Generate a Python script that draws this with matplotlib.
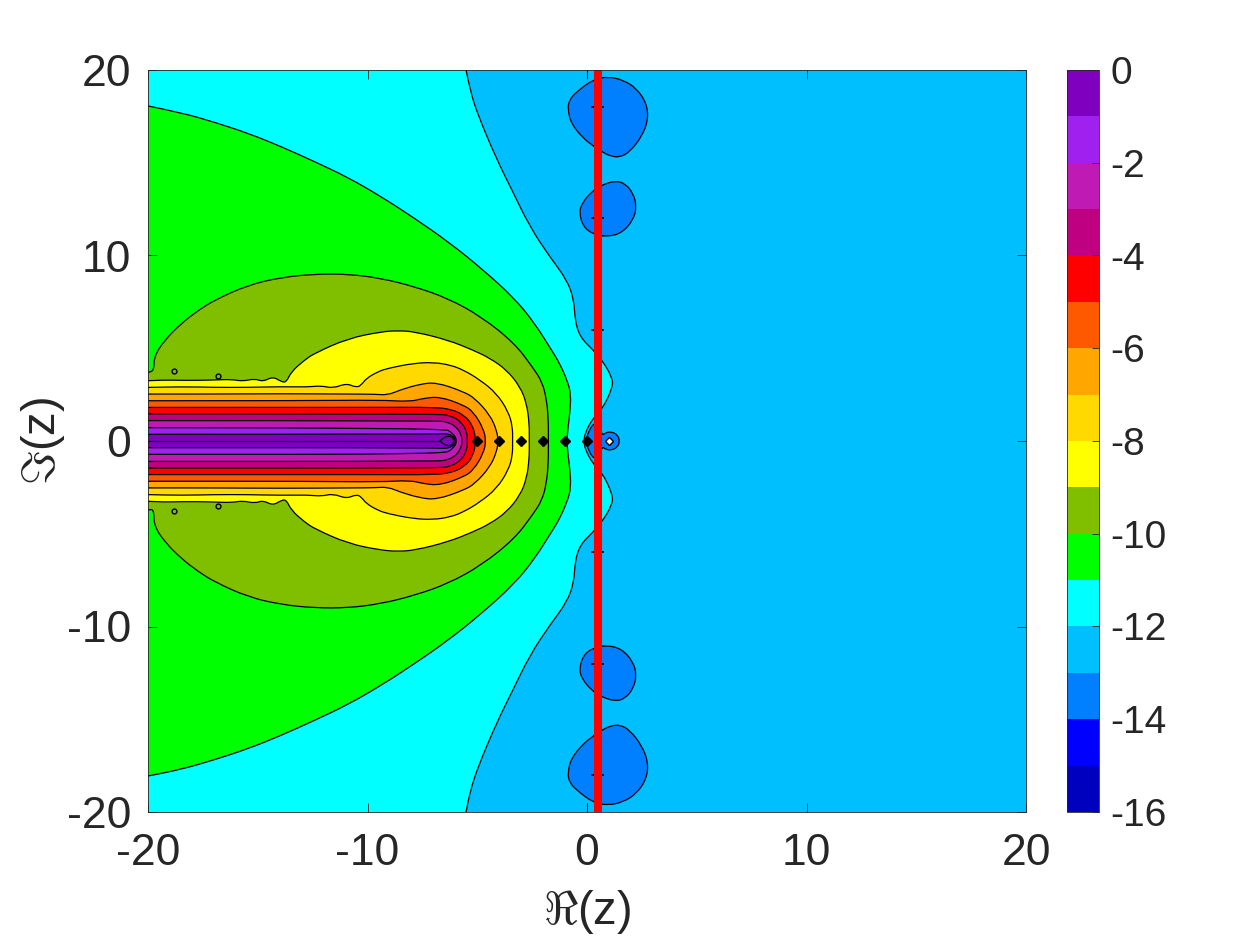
import numpy as np
import matplotlib
matplotlib.use("Agg")
import matplotlib.pyplot as plt
from matplotlib.cm import ScalarMappable
from matplotlib.colors import BoundaryNorm, ListedColormap
from matplotlib.patches import PathPatch
from matplotlib.path import Path

plt.rcParams["font.family"] = ["Liberation Sans", "DejaVu Sans"]
plt.rcParams["mathtext.fontset"] = "cm"

# ======================
# Colour bands, -16 up to 0
# ======================
band_edges = np.arange(-16, 1)
band_colors = [
    "#0000BF", "#0000FF", "#0080FF", "#00BFFF",
    "#00FFFF", "#00FF00", "#80BF00", "#FFFF00",
    "#FFD900", "#FFA600", "#FF5900", "#FF0000",
    "#BF0080", "#BF1AB3", "#A020F0", "#8000BF",
]
cbar_ticks = [0, -2, -4, -6, -8, -10, -12, -14, -16]
axis_ticks = [-20, -10, 0, 10, 20]

# ======================
# Contours (upper half, y >= 0)
# ======================
m12_x = [-5.51, -5.33, -4.97, -4.10, -3.42, -2.60, -1.69, -0.91, -0.59, -0.55, -0.32,
         0.27, 0.68, 1.14, 1.18, 0.68, 0.27, -0.09, -0.14]
m12_y = [20, 18.92, 17.57, 15.15, 13.53, 11.54, 9.92, 8.68, 7.60, 6.52, 5.61,
         4.91, 4.37, 3.45, 2.91, 1.67, 1.24, 0.43, 0]

m11_x = [-20, -18.48, -16.96, -15.44, -13.93, -12.41, -10.89, -9.37, -7.85, -6.33,
         -4.81, -3.30, -2.38, -1.62, -1.25, -0.88, -0.73, -0.78, -0.88, -0.91]
m11_y = [18.06, 17.70, 17.18, 16.59, 15.87, 15.06, 14.21, 13.17, 12.00, 10.75,
         9.31, 7.69, 6.34, 4.91, 4.20, 3.20, 2.50, 1.50, 0.60, 0]

m10_x = [-20, -19.73, -19.73, -19.24, -18.48, -17.70, -16.96, -15.44, -13.93, -12.41, -10.89,
         -9.37, -7.85, -6.33, -4.81, -3.30, -2.46, -2.05, -1.85, -1.76, -1.76]
m10_y = [3.72, 3.67, 4.55, 5.44, 6.34, 7.05, 7.60, 8.41, 8.82, 9.00, 9.00,
         8.77, 8.32, 7.69, 6.70, 5.27, 3.95, 3.20, 2.30, 1.20, 0]

m9_x = [-20, -19.24, -18.48, -17.72, -16.96, -16.20, -15.67, -15.14, -14.76, -14.31,
        -13.93, -13.70, -13.47, -12.86, -12.41, -10.89, -9.37, -8.61, -7.85, -6.33,
        -5.19, -4.42, -3.66, -3.05, -2.75, -2.63, -2.63]
m9_y = [3.25, 3.29, 3.27, 3.27, 3.29, 3.32, 3.22, 3.36, 3.20, 3.47,
        3.20, 3.16, 3.74, 4.37, 4.73, 5.53, 5.89, 5.95, 5.89, 5.44,
        4.90, 4.46, 3.83, 2.93, 2.03, 0.95, 0]

m8_x = [-20, -18.48, -16.96, -15.44, -13.93, -12.71, -12.10, -11.57, -10.96, -10.51,
        -10.28, -10.05, -9.52, -9.07, -7.91, -7.00, -6.24, -5.63, -4.87, -4.12, -3.58, -3.39, -3.39]
m8_y = [2.89, 2.93, 2.89, 2.89, 2.93, 2.91, 2.98, 2.84, 3.11, 2.88,
        3.02, 3.38, 3.74, 3.92, 4.19, 4.24, 4.10, 3.83, 3.29, 2.57, 1.58, 0.77, 0]

m7_x = [-20, -16.96, -13.93, -10.58, -9.67, -9.07, -8.52, -7.61, -6.85, -5.63, -5.10, -4.42, -4.12, -4.04]
m7_y = [2.53, 2.53, 2.55, 2.53, 2.52, 2.48, 2.75, 3.07, 3.16, 2.66, 2.30, 1.40, 0.60, 0]

m6_x = [-20, -13.0, -9.43, -8.06, -7.46, -6.70, -5.63, -5.18, -4.72, -4.60]
m6_y = [2.17, 2.17, 2.21, 2.12, 2.30, 2.39, 1.94, 1.58, 0.68, 0]

m5_x = [-20, -9.43, -7.00, -6.20, -5.60, -5.20, -5.05]
m5_y = [1.81, 1.81, 1.82, 1.72, 1.40, 0.85, 0]

m4_x = [-20, -6.90, -6.20, -5.70, -5.48, -5.44]
m4_y = [1.46, 1.46, 1.38, 1.00, 0.50, 0]

m3_x = [-20, -6.90, -6.30, -5.90, -5.72, -5.70]
m3_y = [1.10, 1.10, 1.02, 0.70, 0.30, 0]

m2_x = [-20, -6.55, -6.09, -5.91]
m2_y = [0.72, 0.72, 0.41, 0]

m1_x = [-20, -7.00, -6.50, -6.10, -5.98]
m1_y = [0.36, 0.36, 0.42, 0.30, 0]

zero_x = [-6.70, -6.40, -6.12, -6.06]
zero_y = [0, 0.29, 0.20, 0]

# blue blobs (-13), closed outlines
blob18_x = [-0.88, -0.72, -0.17, 0.29, 0.67, 1.05, 1.50, 1.96, 2.49, 2.79, 2.72, 2.26, 1.65, 0.97, 0.29, -0.47, -0.80]
blob18_y = [17.90, 17.10, 16.32, 15.90, 15.60, 15.36, 15.29, 15.60, 16.40, 17.30, 18.20, 19.01, 19.46, 19.64, 19.50, 18.83, 18.40]
blob12_x = [-0.35, -0.17, 0.29, 0.90, 1.58, 2.11, 2.26, 2.11, 1.73, 1.28, 0.67, 0.21, -0.24]
blob12_y = [12.27, 11.55, 11.14, 11.01, 11.20, 11.91, 12.63, 13.35, 13.89, 14.03, 13.80, 13.44, 12.81]
blob0_x = [-0.05, 0.02, 0.27, 0.50, 0.70, 0.85, 1.10, 1.38, 1.50]
blob0_y = [0, 0.35, 0.95, 0.85, 0.30, 0.45, 0.50, 0.35, 0]

# zeros and other small marks
real_zeros = [-5, -4, -3, -2, -1, 0]
pole_x = [1]
critical_x = 0.5
complex_zero_y = [18, 12, 6, -6, -12, -18]
speck_x = [-18.8, -16.8]
speck_y = [3.77, 3.50]

levels = [
    (-12, m12_x, m12_y), (-11, m11_x, m11_y), (-10, m10_x, m10_y),
    (-9, m9_x, m9_y), (-8, m8_x, m8_y), (-7, m7_x, m7_y), (-6, m6_x, m6_y),
    (-5, m5_x, m5_y), (-4, m4_x, m4_y), (-3, m3_x, m3_y), (-2, m2_x, m2_y),
    (-1, m1_x, m1_y),
]


def band_color(level):
    return band_colors[min(int(np.floor(level)) + 16, 15)]


def smooth_path(pts, closed=False, tail=()):
    # quadratic segments with the read points as control points
    pts = [tuple(p) for p in pts]
    mid = lambda a, b: ((a[0] + b[0]) / 2, (a[1] + b[1]) / 2)
    if closed:
        verts = [mid(pts[-1], pts[0])]
        codes = [Path.MOVETO]
        for i, p in enumerate(pts):
            verts += [p, mid(p, pts[(i + 1) % len(pts)])]
            codes += [Path.CURVE3, Path.CURVE3]
        return Path(verts, codes)
    verts = [pts[0]]
    codes = [Path.MOVETO]
    for i in range(1, len(pts) - 1):
        verts += [pts[i], mid(pts[i], pts[i + 1])]
        codes += [Path.CURVE3, Path.CURVE3]
    verts.append(pts[-1])
    codes.append(Path.LINETO)
    for p in tail:
        verts.append(p)
        codes.append(Path.LINETO)
    verts.append(pts[0])
    codes.append(Path.CLOSEPOLY)
    return Path(verts, codes)


def mirrored(xs, ys):
    top = list(zip(xs, ys))
    return top + [(x, -y) for x, y in reversed(top[:-1])]


# ======================
# Figure
# ======================
W, H = 1250, 938
fig = plt.figure(figsize=(W / 100, H / 100), dpi=100)
ax = fig.add_axes([148 / W, 1 - 812 / H, 878 / W, 742 / H])
cax = fig.add_axes([1067 / W, 1 - 812 / H, 32 / W, 742 / H])

ax.set_facecolor(band_colors[3])
line_kw = dict(edgecolor="black", linewidth=0.9)

# blobs below -13
for bx, by in [(blob18_x, blob18_y), (blob12_x, blob12_y)]:
    for sign in (1, -1):
        pts = list(zip(bx, sign * np.array(by)))
        ax.add_patch(PathPatch(smooth_path(pts, closed=True), facecolor=band_colors[2], **line_kw))

# nested regions, low level first
for level, xs, ys in levels:
    pts = mirrored(xs, ys)
    x0, y0 = pts[0]
    if y0 >= 20:
        tail = [(x0, -25), (-25, -25), (-25, 25), (x0, 25)]
    else:
        tail = [(-25, -y0), (-25, y0)]
    ax.add_patch(PathPatch(smooth_path(pts, tail=tail), facecolor=band_color(level), **line_kw))

# inner loop of the top level
ax.add_patch(PathPatch(smooth_path(mirrored(zero_x, zero_y), closed=True),
                       facecolor=band_colors[15], **line_kw))
ax.plot([-20, zero_x[0]], [0, 0], color="black", lw=0.9)

# blob around z=1, on top of the -12 lobe
ax.add_patch(PathPatch(smooth_path(mirrored(blob0_x, blob0_y), closed=True),
                       facecolor=band_colors[2], **line_kw))

# short contour stubs at the top and bottom edge
ax.plot([0, 0], [20, 19.57], color="black", lw=0.75)
ax.plot([0, 0], [-20, -19.5], color="black", lw=0.75)

ax.plot(speck_x, speck_y, "o", ms=3.5, mfc=band_colors[6], mec="black", mew=1)
ax.plot(speck_x, -np.array(speck_y), "o", ms=3.5, mfc=band_colors[6], mec="black", mew=1)

# zeros near the critical line
for yz in complex_zero_y:
    ax.plot([0.23, 0.73], [yz, yz], color="black", lw=1.2)

ax.plot(real_zeros, np.zeros(len(real_zeros)), "D", ms=5.2, color="black", zorder=5)
ax.plot(pole_x, [0], "D", ms=4, mfc="white", mec="black", mew=1, zorder=5)

ax.plot([critical_x, critical_x], [-20, 20], color="#FF0000", lw=5.8, solid_capstyle="butt", zorder=6)

ax.set_xlim(-20, 20)
ax.set_ylim(-20, 20)
ax.set_xticks(axis_ticks)
ax.set_yticks(axis_ticks)
ax.set_xticklabels([str(t) for t in axis_ticks])
ax.set_yticklabels([str(t) for t in axis_ticks])
ax.tick_params(direction="in", top=True, right=True, length=6.5, width=0.6,
               color="#262626", labelcolor="#262626", labelsize=32)
ax.tick_params(axis="x", pad=15)
ax.tick_params(axis="y", pad=12)
for spine in ax.spines.values():
    spine.set_linewidth(0.6)
    spine.set_color("#262626")
    spine.set_zorder(7)

fig.text(587 / W, 1 - 912 / H, r"$\Re$(z)", ha="center", va="center", fontsize=34, color="#262626")
fig.text(43 / W, 1 - 441 / H, r"$\Im$(z)", ha="center", va="center", rotation=90, fontsize=34, color="#262626")

# ======================
# Colour bar
# ======================
cmap = ListedColormap(band_colors)
norm = BoundaryNorm(band_edges, cmap.N)
cb = fig.colorbar(ScalarMappable(norm=norm, cmap=cmap), cax=cax, ticks=cbar_ticks, spacing="proportional")
cb.ax.set_yticklabels([str(t) for t in cbar_ticks])
cb.ax.tick_params(direction="in", length=5, width=0.6, color="#262626", labelcolor="#262626",
                  labelsize=28, pad=8, right=True)
cb.ax.minorticks_off()
cb.outline.set_linewidth(0.6)
cb.outline.set_edgecolor("#262626")

plt.savefig("out.png", dpi=100)
